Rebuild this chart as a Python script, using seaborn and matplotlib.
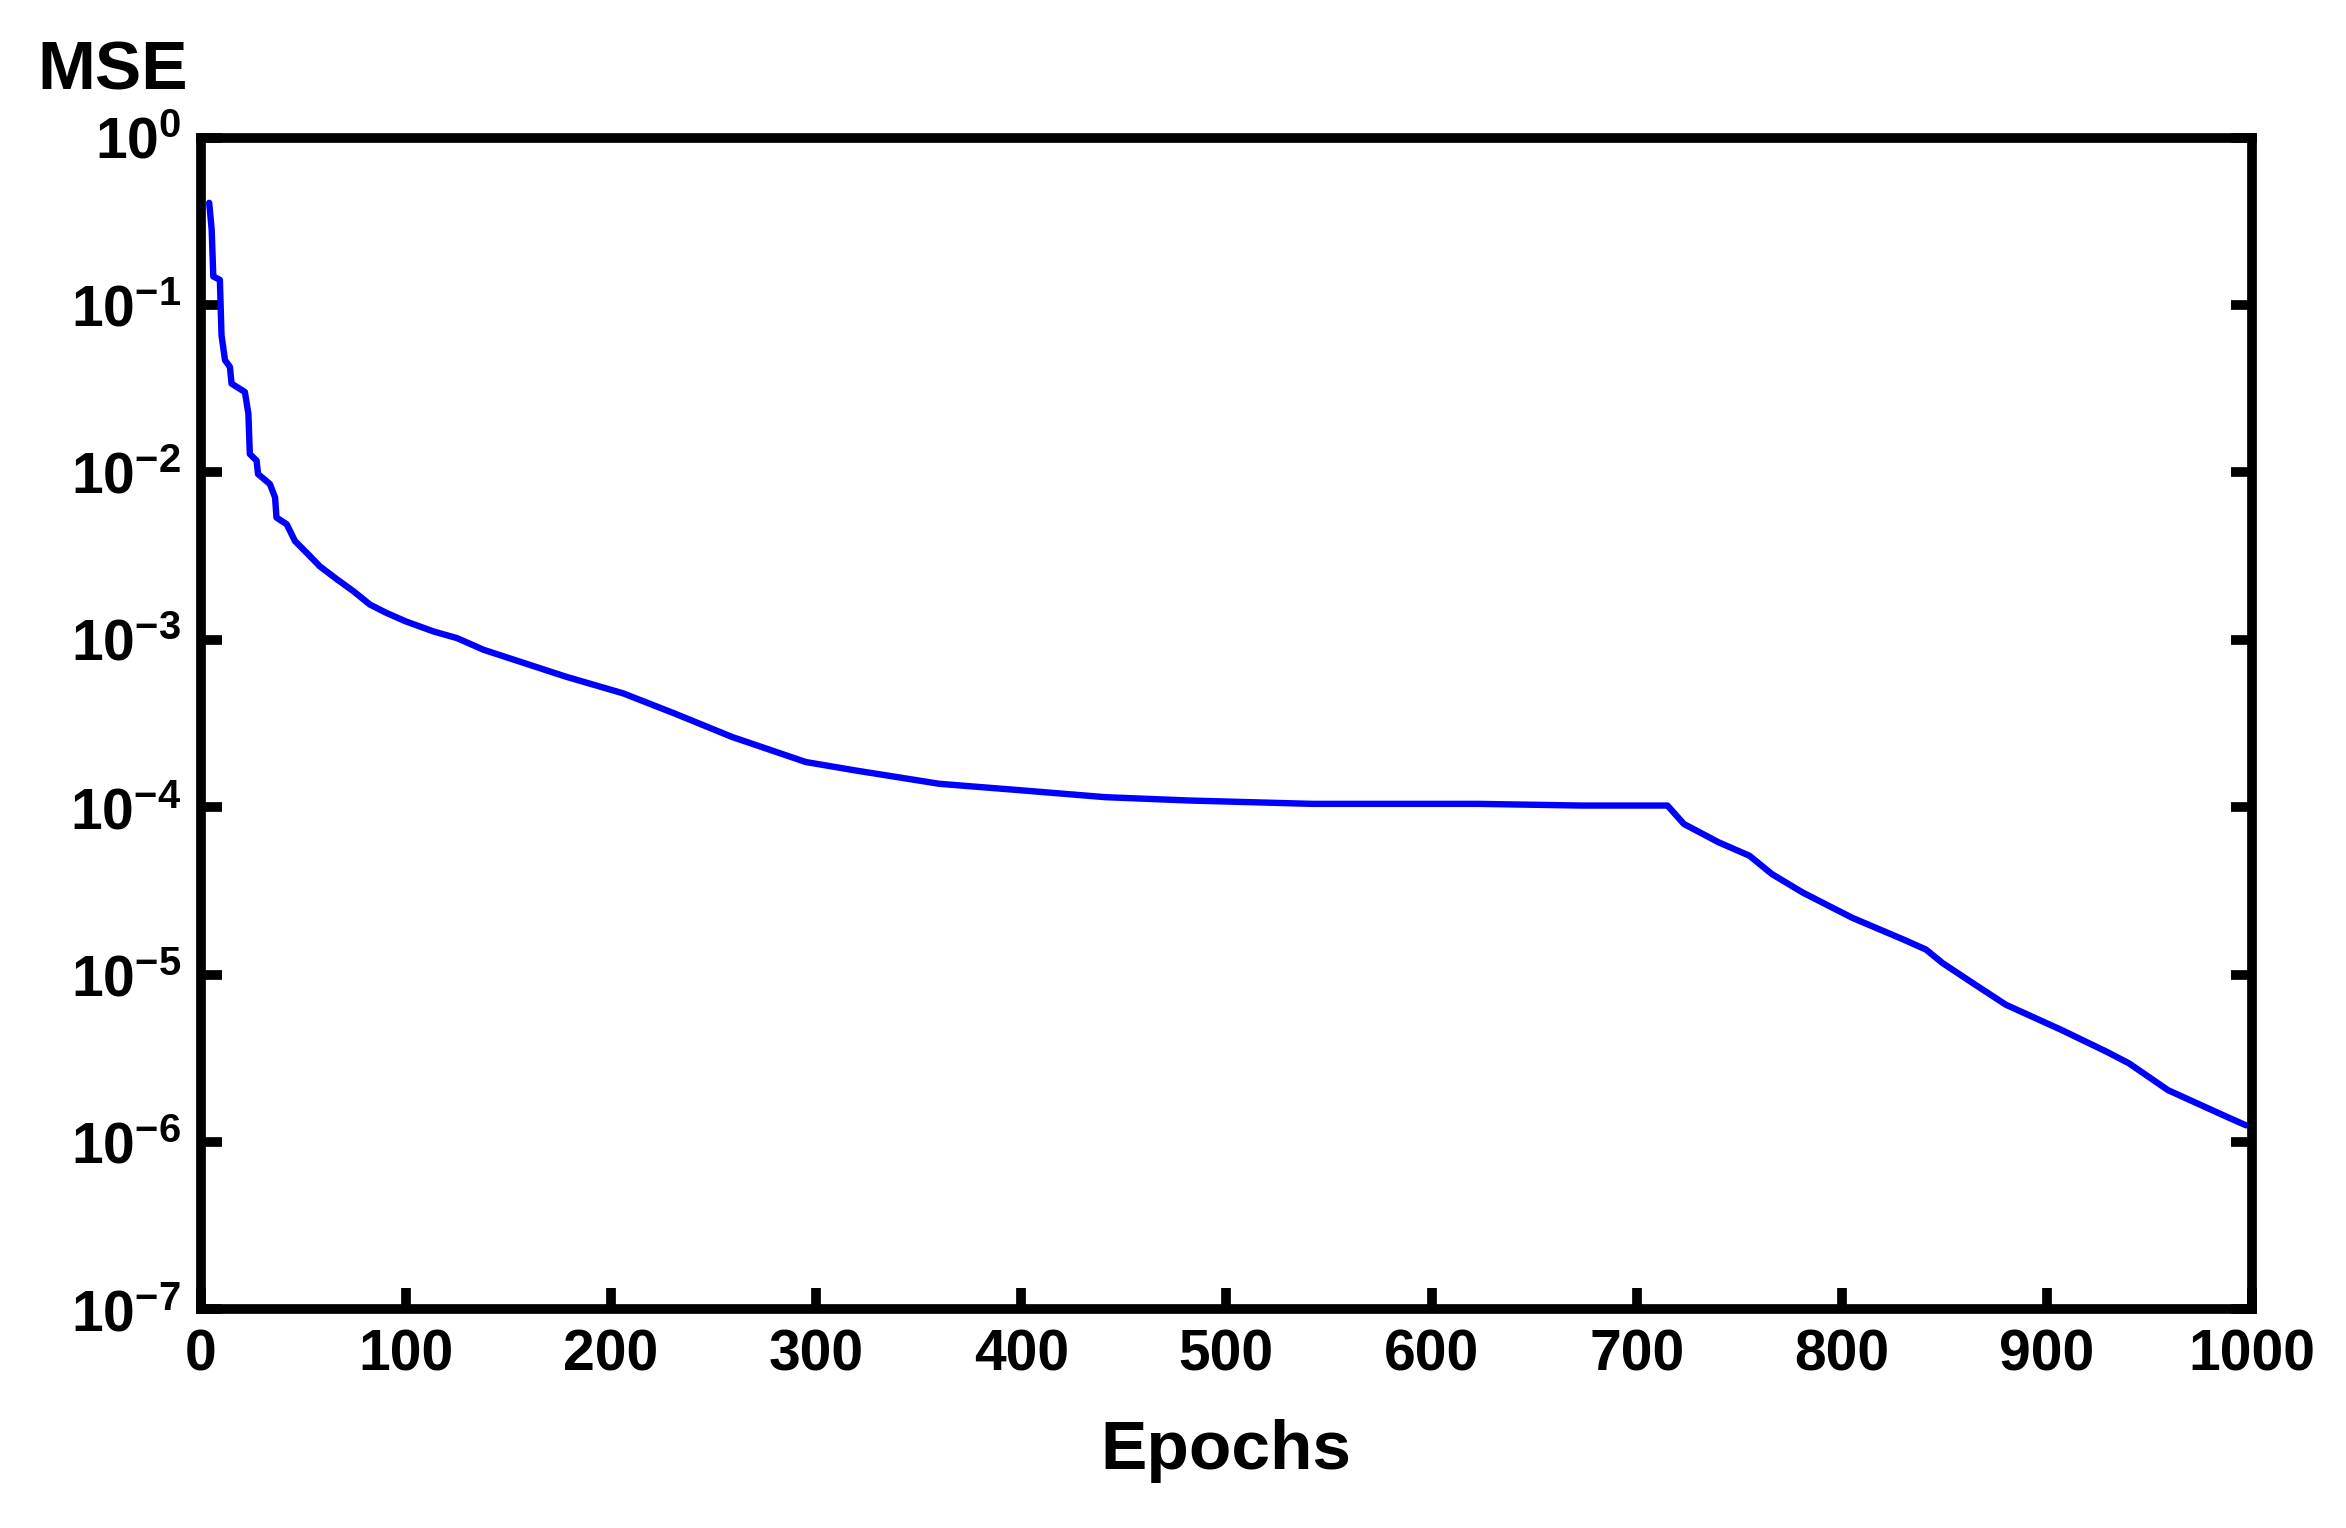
import numpy as np
import pandas as pd
import matplotlib
matplotlib.use("Agg")
import matplotlib.pyplot as plt
import seaborn as sns

# ---- data ----
epochs = [4.2, 5.4, 6.2, 9.4, 10.2, 11.9, 14.3, 15.1, 21.6, 23.3, 24, 27.3, 28, 33.8,
          36.3, 37, 42, 46, 52.5, 58, 65.5, 74.5, 82.6, 90.7, 100, 113.5, 125, 138,
          178, 206, 231, 259, 295, 319, 360, 401, 441, 482, 542, 623, 673, 715,
          723, 740, 755, 766, 781, 805, 830, 841, 849, 865, 880, 907, 929, 940,
          959, 986, 997]
log_mse = [-0.39, -0.55, -0.83, -0.85, -1.18, -1.33, -1.37, -1.47, -1.52, -1.65, -1.89,
           -1.93, -2.01, -2.07, -2.15, -2.27, -2.31, -2.41, -2.49, -2.56, -2.63, -2.71,
           -2.79, -2.84, -2.89, -2.95, -2.99, -3.06, -3.22, -3.32, -3.44, -3.58, -3.73,
           -3.78, -3.86, -3.90, -3.94, -3.96, -3.98, -3.98, -3.99, -3.99, -4.10, -4.21,
           -4.29, -4.40, -4.51, -4.66, -4.79, -4.85, -4.93, -5.06, -5.18, -5.33, -5.46,
           -5.53, -5.69, -5.84, -5.90]
x_ticks = [0, 100, 200, 300, 400, 500, 600, 700, 800, 900, 1000]
y_exponents = [0, -1, -2, -3, -4, -5, -6, -7]

df = pd.DataFrame({"Epochs": epochs, "MSE": [10.0 ** v for v in log_mse]})

sns.set_theme(style="white")
plt.rcParams["font.family"] = ["Liberation Sans", "DejaVu Sans"]
plt.rcParams["font.weight"] = "bold"
plt.rcParams["text.color"] = "black"
plt.rcParams["axes.labelcolor"] = "black"
plt.rcParams["mathtext.fontset"] = "custom"
plt.rcParams["mathtext.rm"] = "Liberation Sans:bold"
plt.rcParams["mathtext.bf"] = "Liberation Sans:bold"
plt.rcParams["mathtext.it"] = "Liberation Sans:bold"
plt.rcParams["mathtext.default"] = "bf"

fig = plt.figure(figsize=(23.46, 15.28), dpi=100, facecolor="white")
ax = fig.add_axes([0.0855, 0.143, 0.8745, 0.767])

sns.lineplot(data=df, x="Epochs", y="MSE", ax=ax, color="#0000ff", linewidth=4.6)
ax.set_yscale("log")
ax.set_xlim(0, 1000)
ax.set_ylim(1e-7, 1)

ax.set_xticks(x_ticks)
ax.set_xticklabels([str(t) for t in x_ticks], fontsize=41, fontweight="bold")
ax.set_yticks([10.0 ** e for e in y_exponents])
ax.set_yticklabels(["$\\mathbf{10^{%d}}$" % e for e in y_exponents], fontsize=41)
ax.yaxis.set_minor_locator(matplotlib.ticker.NullLocator())

ax.tick_params(axis="both", which="major", direction="in", length=15, width=7,
               color="black", labelcolor="black")
ax.tick_params(axis="x", pad=14, bottom=True, top=False)
ax.tick_params(axis="y", pad=14, left=True, right=True)

for s in ax.spines.values():
    s.set_visible(True)
    s.set_color("black")
    s.set_linewidth(7)

ax.set_ylabel("")
ax.set_xlabel("Epochs", fontsize=50, fontweight="bold", labelpad=26, color="black")
fig.text(0.016, 0.953, "MSE", fontsize=50, fontweight="bold", ha="left", va="center",
         color="black")

fig.savefig("out.png", dpi=100, facecolor="white")
